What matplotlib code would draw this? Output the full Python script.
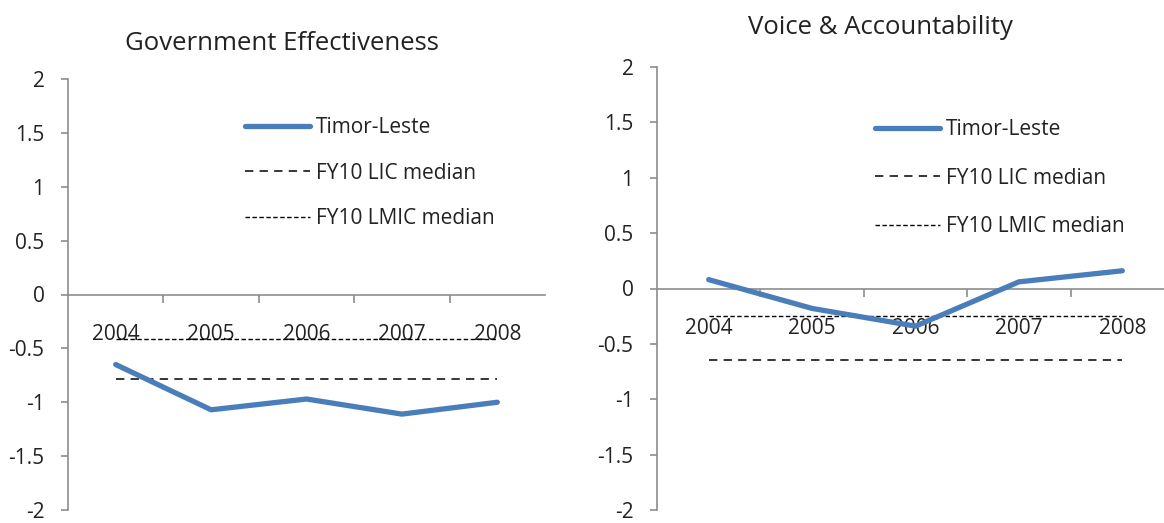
import matplotlib
matplotlib.use("Agg")
import matplotlib.pyplot as plt
import numpy as np

plt.rcParams['font.family'] = ['Open Sans', 'DejaVu Sans']
plt.rcParams['lines.scale_dashes'] = False

years = ["2004", "2005", "2006", "2007", "2008"]
ge_timor = [-0.65, -1.07, -0.97, -1.11, -1.00]
ge_lic = [-0.78] * 5
ge_lmic = [-0.41] * 5
va_timor = [0.08, -0.18, -0.34, 0.06, 0.16]
va_lic = [-0.65] * 5
va_lmic = [-0.25] * 5
yticks = [2, 1.5, 1, 0.5, 0, -0.5, -1, -1.5, -2]
ytick_labels = ["2", "1.5", "1", "0.5", "0", "-0.5", "-1", "-1.5", "-2"]

W, H = 1164, 523
fig = plt.figure(figsize=(W / 100, H / 100), dpi=100)

BLUE = "#4a7ebb"
AXC = "#8c8c8c"
TXT = "#222222"

def panel(rect, title, title_xy, timor, lic, lmic, leg_anchor, labelspacing):
    ax = fig.add_axes(rect)
    x = np.arange(len(years))
    ax.plot(x, timor, color=BLUE, lw=3.8, solid_capstyle='round', label="Timor-Leste", zorder=3)
    ax.plot(x, lic, color="black", lw=1.1, dashes=(6, 4.5), label="FY10 LIC median", zorder=2)
    ax.plot(x, lmic, color="black", lw=1.0, dashes=(3.2, 1.8), label="FY10 LMIC median", zorder=2)
    ax.set_xlim(-0.5, len(years) - 0.5)
    ax.set_ylim(-2, 2)
    for s in ["top", "right"]:
        ax.spines[s].set_visible(False)
    ax.spines['left'].set_color(AXC)
    ax.spines['bottom'].set_color(AXC)
    ax.spines['left'].set_linewidth(1.2)
    ax.spines['bottom'].set_linewidth(1.2)
    ax.spines['bottom'].set_position(('data', 0))
    ax.set_yticks(yticks)
    ax.set_yticklabels(ytick_labels)
    ax.tick_params(axis='y', colors=AXC, labelcolor=TXT, length=5, width=1.2,
                   labelsize=15, pad=12)
    # category boundaries as major ticks, labels on minor ticks at centers
    ax.set_xticks(np.arange(0.5, len(years) - 0.5, 1.0))
    ax.set_xticklabels([])
    ax.tick_params(axis='x', which='major', colors=AXC, length=6, width=1.2, direction='out')
    ax.set_xticks(x, minor=True)
    ax.set_xticklabels(years, minor=True)
    ax.tick_params(axis='x', which='minor', length=0, labelsize=15, labelcolor=TXT, pad=21)
    fig.text(title_xy[0] / W, 1 - title_xy[1] / H, title, ha='center', va='center',
             fontsize=18.5, color=TXT)
    leg = ax.legend(loc='upper left', bbox_to_anchor=leg_anchor, bbox_transform=fig.transFigure,
                    frameon=False, fontsize=15, handlelength=3.1, handletextpad=0.3,
                    labelspacing=labelspacing, borderaxespad=0, borderpad=0)
    for t in leg.get_texts():
        t.set_color(TXT)
    return ax

panel([68 / W, 1 - 510 / H, 477 / W, 431 / H], "Government Effectiveness", (282, 43),
      ge_timor, ge_lic, ge_lmic, (245 / W, 1 - 117 / H), 1.18)
panel([657 / W, 1 - 510 / H, 517 / W, 443 / H], "Voice & Accountability", (880, 27),
      va_timor, va_lic, va_lmic, (875 / W, 1 - 119 / H), 1.32)

fig.savefig("out.png", dpi=100)
